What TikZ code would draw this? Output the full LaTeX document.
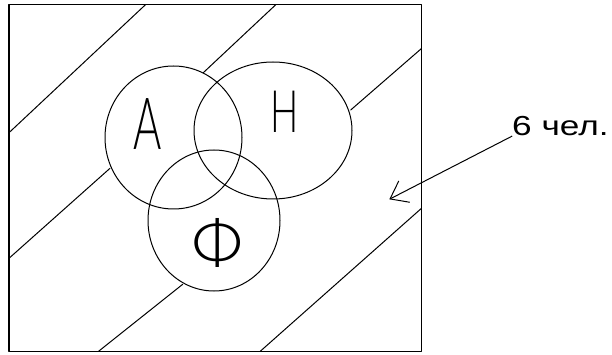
\documentclass[tikz,border=0pt]{standalone}
\usepackage{fontspec}
\setmainfont{Liberation Sans}
\newfontfamily\hand{Lato Light}
\usetikzlibrary{arrows.meta}
\begin{document}
\begin{tikzpicture}[x=1pt,y=-1pt,line join=round,line cap=round]
\tikzset{
  frame/.style={draw=black,line width=1.8pt,line cap=butt},
  ring/.style={draw=black,line width=1pt},
  hatch/.style={draw=black,line width=1pt},
  letter/.style={inner sep=0pt,anchor=base},
  arrowline/.style={draw=black,line width=1pt,-{Straight Barb[length=16pt,width=24pt,line width=1pt]}}
}
\useasboundingbox (0,0) rectangle (612,355);
% frame
\draw[frame] (9,4.5) rectangle (421.5,351.5);
% hatching outside the sets
\draw[hatch] (9,132.7) -- (145.7,4.5);
\draw[hatch] (203.5,72.5) -- (276,4.5);
\draw[hatch] (350.7,110) -- (421.5,48.5);
\draw[hatch] (9,258.3) -- (110,168.3);
\draw[hatch] (98.3,351.5) -- (182.7,284.3);
\draw[hatch] (260,351.5) -- (421.5,208.3);
% sets
\draw[ring] (173.5,137.5) ellipse [x radius=68.5,y radius=71.5];
\draw[ring] (273,130.5) ellipse [x radius=79,y radius=68.5];
\draw[ring] (214,220.5) ellipse [x radius=66,y radius=70.5];
% letters
\node[letter] (la) at (148,150) {\scalebox{0.6}[1]{\hand\fontsize{72}{72}\selectfont А}};
\node[letter] (lh) at (284.5,132.7) {\scalebox{0.64}[1]{\hand\fontsize{58.5}{58.5}\selectfont Н}};
\node[letter] (lf) at (217.5,267) {\scalebox{1.05}[1]{\hand\fontsize{66}{66}\selectfont Ф}};
% label and arrow
\node[inner sep=0pt,anchor=base west] (lbl) at (512,135.7) {\scalebox{1.28}[1]{\fontsize{27.5}{30}\selectfont 6 чел.}};
\coordinate (tip) at (389.3,199.3);
\draw[arrowline] (lbl.south west) -- (tip);
\end{tikzpicture}
\end{document}
